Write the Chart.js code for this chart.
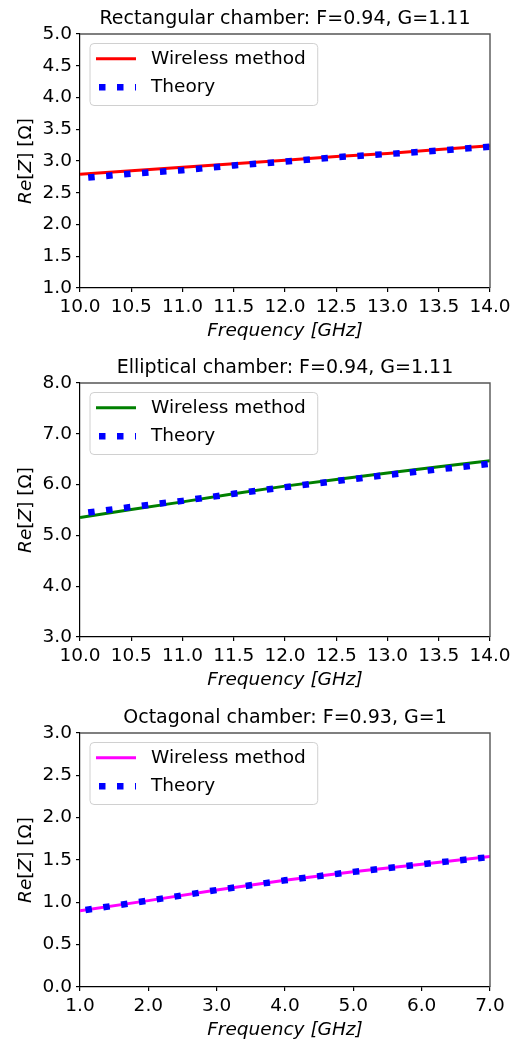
<!DOCTYPE html>
<html>
<head>
<meta charset="utf-8">
<script src="https://cdn.jsdelivr.net/npm/chart.js@4"></script>
<style>
  html, body { margin: 0; padding: 0; background: #fff; }
  #wrap { position: relative; width: 518px; height: 1042px; overflow: hidden; }
  canvas { position: absolute; left: 0; }
</style>
</head>
<body>
<div id="wrap">
  <canvas id="c1" width="518" height="350" style="top:0px"></canvas>
  <canvas id="c2" width="518" height="350" style="top:349px"></canvas>
  <canvas id="c3" width="518" height="350" style="top:699px"></canvas>
</div>
<script>
const FONT = "'DejaVu Sans', sans-serif";
const SIZE = 18.5;

// Rectangular chamber
const rectFreq = [10, 10.5, 11, 11.5, 12, 12.5, 13, 13.5, 14];
const rectWireless = [2.79, 2.845, 2.90, 2.955, 3.01, 3.07, 3.12, 3.18, 3.24];
const rectTheoryFreq = [10.08, 10.5, 11, 11.5, 12, 12.5, 13, 13.5, 14];
const rectTheory = [2.74, 2.80, 2.855, 2.93, 2.99, 3.06, 3.11, 3.165, 3.225];
const rectXTicks = [10, 10.5, 11, 11.5, 12, 12.5, 13, 13.5, 14];
const rectYTicks = [1, 1.5, 2, 2.5, 3, 3.5, 4, 4.5, 5];

// Elliptical chamber
const ellFreq = [10, 10.5, 11, 11.5, 12, 12.5, 13, 13.5, 14];
const ellWireless = [5.35, 5.51, 5.66, 5.82, 5.97, 6.10, 6.23, 6.35, 6.47];
const ellTheoryFreq = [10.08, 10.5, 11, 11.5, 12, 12.5, 13, 13.5, 14];
const ellTheory = [5.45, 5.56, 5.68, 5.82, 5.95, 6.07, 6.19, 6.30, 6.41];
const ellXTicks = [10, 10.5, 11, 11.5, 12, 12.5, 13, 13.5, 14];
const ellYTicks = [3, 4, 5, 6, 7, 8];

// Octagonal chamber
const octFreq = [1, 2, 3, 4, 5, 6, 7];
const octWireless = [0.90, 1.02, 1.145, 1.26, 1.36, 1.45, 1.54];
const octTheoryFreq = [1.08, 2, 3, 4, 5, 6, 7];
const octTheory = [0.91, 1.02, 1.145, 1.26, 1.36, 1.45, 1.535];
const octXTicks = [1, 2, 3, 4, 5, 6, 7];
const octYTicks = [0, 0.5, 1, 1.5, 2, 2.5, 3];

const seriesLabels = ["Wireless method", "Theory"];

function pairs(xs, ys)
{
    return xs.map((x, i) => ({x, y: ys[i]}));
}

// spines, y label with mixed italic and the framed legend
const decorations = {
    id: "decorations",
    afterDraw(chart)
    {
        const ctx = chart.ctx;
        const a = chart.chartArea;
        ctx.save();

        ctx.strokeStyle = "#555";
        ctx.lineWidth = 1.4;
        ctx.beginPath();
        ctx.moveTo(a.left, a.top);
        ctx.lineTo(a.right, a.top);
        ctx.lineTo(a.right, a.bottom);
        ctx.stroke();

        // y axis label: Re[Z] [Ω]
        const parts = [["Re", "italic"], ["[", "normal"], ["Z", "italic"], ["] [Ω]", "normal"]];
        let total = 0;
        const widths = parts.map(p => {
            ctx.font = `${p[1]} ${SIZE}px ${FONT}`;
            const w = ctx.measureText(p[0]).width;
            total += w;
            return w;
        });
        ctx.translate(26, (a.top + a.bottom) / 2);
        ctx.rotate(-Math.PI / 2);
        ctx.fillStyle = "#000";
        ctx.textBaseline = "middle";
        ctx.textAlign = "left";
        let px = -total / 2;
        parts.forEach((p, i) => {
            ctx.font = `${p[1]} ${SIZE}px ${FONT}`;
            ctx.fillText(p[0], px, 0);
            px += widths[i];
        });
        ctx.setTransform(1, 0, 0, 1, 0, 0);

        // legend
        const ds = chart.data.datasets;
        ctx.font = `${SIZE}px ${FONT}`;
        const tw = Math.max(...ds.map(d => ctx.measureText(d.label).width));
        const x0 = a.left + 10, y0 = a.top + 9.5;
        const w = 61 + tw + 12, h = 62, r = 4;
        ctx.beginPath();
        ctx.roundRect(x0, y0, w, h, r);
        ctx.fillStyle = "rgba(255,255,255,0.8)";
        ctx.fill();
        ctx.strokeStyle = "#d0d0d0";
        ctx.lineWidth = 1;
        ctx.stroke();

        ds.forEach((d, i) => {
            const yy = y0 + 15.2 + i * 28.6;
            ctx.beginPath();
            ctx.strokeStyle = d.borderColor;
            ctx.lineWidth = d.borderWidth;
            ctx.lineCap = "butt";
            ctx.setLineDash(d.borderDash || []);
            ctx.lineDashOffset = d.borderDash ? -3 : 0;
            ctx.moveTo(x0 + 6, yy);
            ctx.lineTo(x0 + 46, yy);
            ctx.stroke();
            ctx.setLineDash([]);
            ctx.fillStyle = "#000";
            ctx.textBaseline = "middle";
            ctx.fillText(d.label, x0 + 61, yy);
        });
        ctx.restore();
    }
};

function axisOptions(min, max, ticks, extra)
{
    return Object.assign({
        type: "linear",
        min,
        max,
        afterBuildTicks: s => { s.ticks = ticks.map(v => ({value: v})); },
        ticks: {
            color: "#000",
            font: {family: FONT, size: SIZE},
            padding: 4,
            maxRotation: 0,
            autoSkip: false,
            callback: v => Number(v).toFixed(1)
        },
        grid: {drawOnChartArea: false, tickLength: 4, color: "#000", lineWidth: 1.2},
        border: {color: "#000", width: 1.2}
    }, extra);
}

function makeChart(id, title, color, freq, wireless, theoryFreq, theory, xr, yr)
{
    return new Chart(document.getElementById(id), {
        type: "line",
        data: {
            datasets: [{
                label: seriesLabels[0],
                data: pairs(freq, wireless),
                borderColor: color,
                borderWidth: 3,
                pointRadius: 0,
                order: 1
            }, {
                label: seriesLabels[1],
                data: pairs(theoryFreq, theory),
                borderColor: "#0000ff",
                borderWidth: 6.5,
                borderDash: [6.5, 11.5],
                borderCapStyle: "butt",
                pointRadius: 0,
                order: 0
            }]
        },
        options: {
            responsive: false,
            animation: false,
            events: [],
            layout: {padding: {left: 0, right: 28, top: 0, bottom: 0}},
            plugins: {
                legend: {display: false},
                tooltip: {enabled: false},
                title: {
                    display: true,
                    text: title,
                    fullSize: false,
                    color: "#000",
                    font: {family: FONT, size: 19, weight: "normal"},
                    padding: {top: 8, bottom: 3.2}
                }
            },
            scales: {
                x: axisOptions(xr[0], xr[xr.length - 1], xr, {
                    afterFit: s => { s.height = 62; },
                    title: {
                        display: true,
                        text: "Frequency [GHz]",
                        color: "#000",
                        font: {family: FONT, size: SIZE, style: "italic"},
                        padding: {top: 0, bottom: 8}
                    }
                }),
                y: axisOptions(yr[0], yr[yr.length - 1], yr, {
                    afterFit: s => { s.width = 80; }
                })
            }
        },
        plugins: [decorations]
    });
}

makeChart("c1", "Rectangular chamber: F=0.94, G=1.11", "#ff0000",
    rectFreq, rectWireless, rectTheoryFreq, rectTheory, rectXTicks, rectYTicks);
makeChart("c2", "Elliptical chamber: F=0.94, G=1.11", "#008000",
    ellFreq, ellWireless, ellTheoryFreq, ellTheory, ellXTicks, ellYTicks);
makeChart("c3", "Octagonal chamber: F=0.93, G=1", "#ff00ff",
    octFreq, octWireless, octTheoryFreq, octTheory, octXTicks, octYTicks);
</script>
</body>
</html>
